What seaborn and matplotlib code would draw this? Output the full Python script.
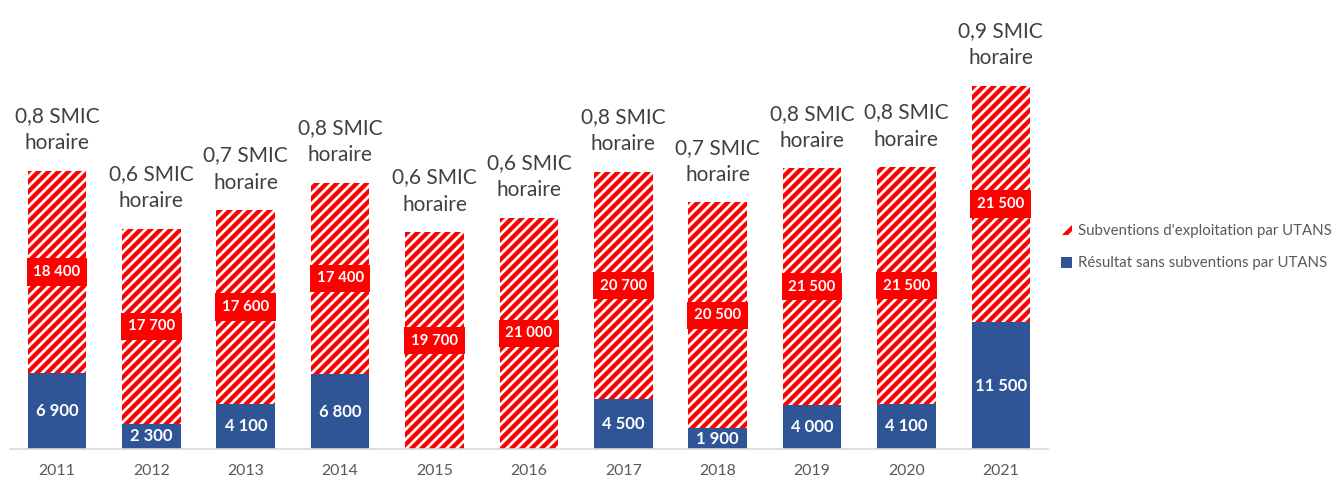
import matplotlib
matplotlib.use("Agg")
import matplotlib.pyplot as plt
import seaborn as sns
import pandas as pd
from matplotlib.patches import Patch

# Data per year (euros per UTANS)
years = ["2011", "2012", "2013", "2014", "2015", "2016",
         "2017", "2018", "2019", "2020", "2021"]
resultat = [6900, 2300, 4100, 6800, 0, 0, 4500, 1900, 4000, 4100, 11500]
subventions = [18400, 17700, 17600, 17400, 19700, 21000,
               20700, 20500, 21500, 21500, 21500]
smic = ["0,8", "0,6", "0,7", "0,8", "0,6", "0,6",
        "0,8", "0,7", "0,8", "0,8", "0,9"]

label_sub = "Subventions d'exploitation par UTANS"
label_res = "Résultat sans subventions par UTANS"

RED = "#FF0000"
BLUE = "#2F5597"
GREY = "#595959"
TEXT = "#404040"

sns.set_theme(style="white")
plt.rcParams["font.family"] = ["Lato", "DejaVu Sans"]
plt.rcParams["hatch.linewidth"] = 2.6

df = pd.DataFrame({"annee": years, "resultat": resultat, "subventions": subventions})
df["total"] = df["resultat"] + df["subventions"]

DPI = 120
fig = plt.figure(figsize=(1341 / DPI, 479 / DPI), dpi=DPI)
ax = fig.add_axes([9.8 / 1341, 30 / 479, (1048 - 9.8) / 1341, 449 / 479])

# Hatched stack (total), then the solid result bar over its lower part
sns.barplot(data=df, x="annee", y="total", ax=ax, color="white",
            edgecolor=RED, hatch="////", linewidth=0, width=0.62,
            saturation=1, errorbar=None)
sns.barplot(data=df, x="annee", y="resultat", ax=ax, color=BLUE,
            linewidth=0, width=0.62, saturation=1, errorbar=None)

ax.set_xlim(-0.5, len(years) - 0.5)
ax.set_ylim(0, 40800)
ax.set_xlabel("")
ax.set_ylabel("")
ax.set_yticks([])
ax.tick_params(axis="x", length=0, pad=9, labelsize=9.5, labelcolor=GREY)
for s in ["top", "right", "left"]:
    ax.spines[s].set_visible(False)
ax.spines["bottom"].set_color("#D9D9D9")
ax.spines["bottom"].set_linewidth(1.0)

def fmt(v):
    return f"{v:,}".replace(",", " ")

for i, (r, s, sm) in enumerate(zip(resultat, subventions, smic)):
    if r > 0:
        ax.text(i, r / 2, fmt(r), ha="center", va="center", color="white",
                fontsize=10, fontweight="bold")
    ax.text(i, r + s / 2, fmt(s), ha="center", va="center", color="white",
            fontsize=9, fontweight="bold",
            bbox=dict(boxstyle="square,pad=0.45", fc=RED, ec="none"))
    ax.annotate(f"{sm} SMIC\nhoraire", xy=(i, r + s), xytext=(0, 10.5),
                textcoords="offset points", ha="center", va="bottom",
                multialignment="center", fontsize=12.5, color=TEXT,
                linespacing=1.45, annotation_clip=False)

handles = [Patch(facecolor="white", edgecolor=RED, hatch="//", linewidth=0),
           Patch(facecolor=BLUE, edgecolor="none")]
fig.legend(handles, [label_sub, label_res], loc="center left",
           bbox_to_anchor=(1055 / 1341, 1 - 247 / 479), frameon=False,
           fontsize=9, labelcolor=GREY, handlelength=0.75, handleheight=0.75,
           handletextpad=0.4, labelspacing=1.25, borderaxespad=0)

fig.savefig("out.png", dpi=DPI)
